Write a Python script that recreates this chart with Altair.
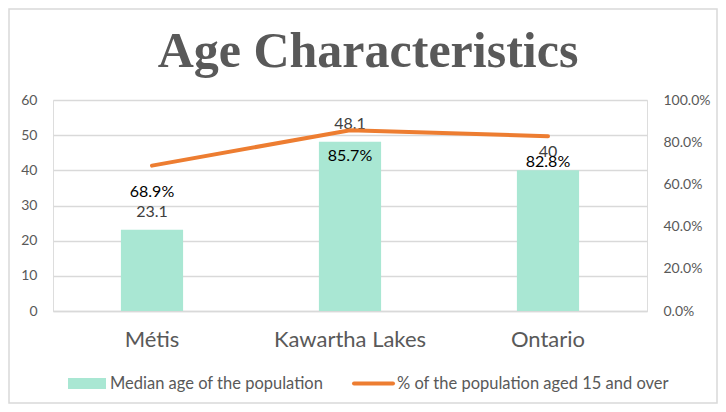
import altair as alt
import pandas as pd

categories = ["Métis", "Kawartha Lakes", "Ontario"]
median_age = [23.1, 48.1, 40]
median_age_labels = ["23.1", "48.1", "40"]
pct_15_over = [0.689, 0.857, 0.828]

title_text = "Age Characteristics"
series_bar = "Median age of the population"
series_line = "% of the population aged 15 and over"

df = pd.DataFrame({
    "cat": categories,
    "age": median_age,
    "age_label": median_age_labels,
    "pct": pct_15_over,
})

W, H = 594, 211
FONT = "Lato"
GRAY = "#595959"

x = alt.X("cat:N", sort=categories, title=None,
          scale=alt.Scale(paddingInner=0.686, paddingOuter=0.343),
          axis=alt.Axis(labelAngle=0, labelFontSize=22, labelColor=GRAY, labelFont=FONT,
                        labelPadding=18, ticks=False, domainColor="#d9d9d9", domainWidth=1.5))

y_left = alt.Y("age:Q", title=None,
               scale=alt.Scale(domain=[0, 60], nice=False),
               axis=alt.Axis(values=[0, 10, 20, 30, 40, 50, 60], labelFontSize=14, labelColor=GRAY,
                             labelFont=FONT, labelPadding=16, ticks=False, domain=False,
                             gridColor="#d9d9d9", gridWidth=1.5))

y_right = alt.Y("pct:Q", title=None,
                scale=alt.Scale(domain=[0, 1], nice=False),
                axis=alt.Axis(orient="right", values=[0, 0.2, 0.4, 0.6, 0.8, 1.0], format=".1%",
                              labelFontSize=14, labelColor=GRAY, labelFont=FONT, labelPadding=16,
                              ticks=False, domain=False, grid=False))

base = alt.Chart(df)

bars = base.mark_bar(color="#A9E7D3").encode(x=x, y=y_left)
bar_text = base.mark_text(dy=-18, fontSize=16, font=FONT, color="#404040").encode(
    x=x, y=y_left, text="age_label:N")

left = alt.layer(bars, bar_text)

line = base.mark_line(color="#ED7D31", strokeWidth=4, strokeCap="round").encode(x=x, y=y_right)
line_text = base.mark_text(dy=26, fontSize=16, font=FONT, color="#000000").encode(
    x=x, y=y_right, text=alt.Text("pct:Q", format=".1%"))

right = alt.layer(line, line_text)

# title and legend as annotation marks
one = pd.DataFrame({"a": [0]})
ann = alt.Chart(one)
title = ann.mark_text(text=title_text, font="Liberation Serif", fontWeight="bold", fontSize=50,
                      color=GRAY, align="center", baseline="alphabetic").encode(
    x=alt.value(315), y=alt.value(-33))
leg_sw1 = ann.mark_rect(color="#A9E7D3").encode(
    x=alt.value(15), x2=alt.value(53), y=alt.value(278), y2=alt.value(289))
leg_t1 = ann.mark_text(text=series_bar, font=FONT, fontSize=16.5, color=GRAY, align="left",
                       baseline="middle").encode(x=alt.value(57), y=alt.value(283.5))
leg_sw2 = ann.mark_rule(color="#ED7D31", strokeWidth=4, strokeCap="round").encode(
    x=alt.value(301), x2=alt.value(340), y=alt.value(283.5))
leg_t2 = ann.mark_text(text=series_line, font=FONT, fontSize=16.5, color=GRAY, align="left",
                       baseline="middle").encode(x=alt.value(344), y=alt.value(283.5))
border = ann.mark_rect(fill=None, stroke="#d9d9d9", strokeWidth=1.5).encode(
    x=alt.value(-44), x2=alt.value(W + 70), y=alt.value(-91), y2=alt.value(H + 92))

chart = alt.layer(
    left, right, title, leg_sw1, leg_t1, leg_sw2, leg_t2, border
).resolve_scale(y="independent").properties(
    width=W, height=H,
    autosize=alt.AutoSizeParams(type="none"),
    padding={"left": 45, "top": 92, "right": 71, "bottom": 93},
).configure_view(stroke=None).configure(background="white")

chart.save("out.html", embed_options={"renderer": "svg", "actions": False})
